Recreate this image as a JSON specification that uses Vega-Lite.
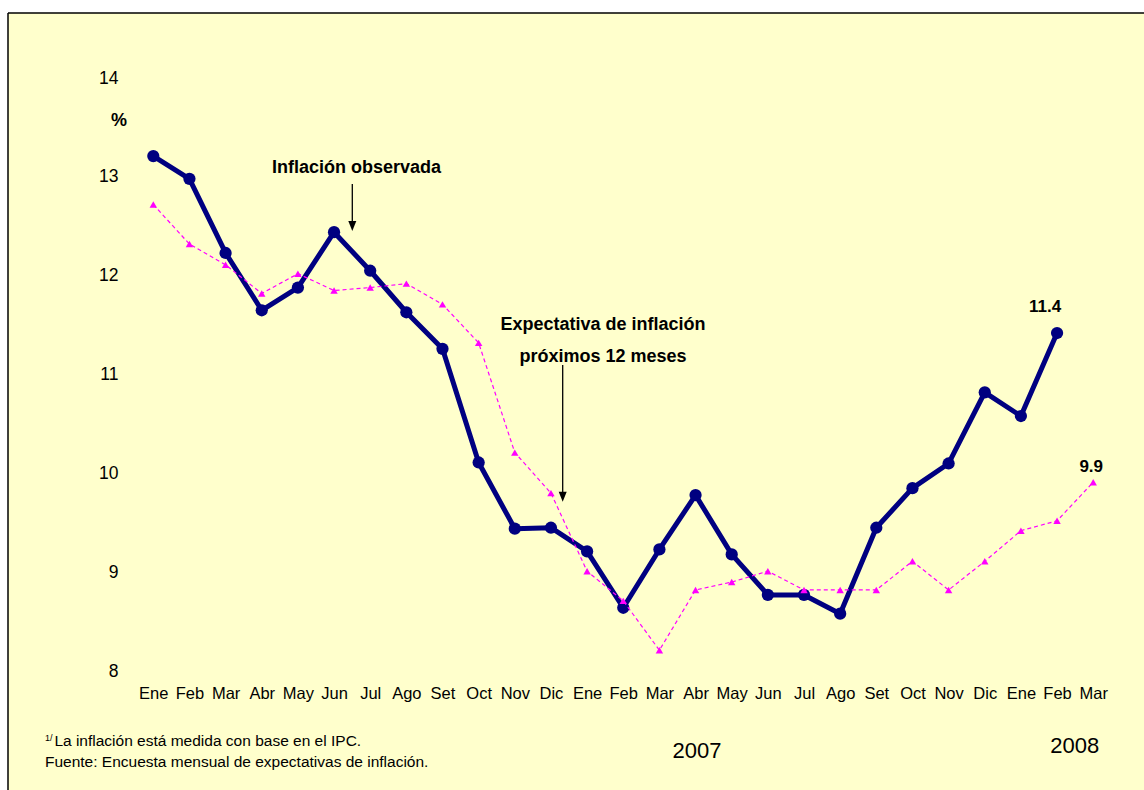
{
  "$schema": "https://vega.github.io/schema/vega-lite/v6.json",
  "width": 1136,
  "height": 777,
  "autosize": {"type": "none"},
  "padding": {"left": 8, "top": 13, "right": 0, "bottom": 0},
  "background": "#FFFFFF",
  "config": {
    "view": {"fill": "#FFFFCC", "stroke": null},
    "font": "Liberation Sans"
  },
  "datasets": {
    "series": [
      {"i": 0, "mes": "Ene", "anio": 2006, "serie": "obs", "v": 13.21},
      {"i": 1, "mes": "Feb", "anio": 2006, "serie": "obs", "v": 12.98},
      {"i": 2, "mes": "Mar", "anio": 2006, "serie": "obs", "v": 12.23},
      {"i": 3, "mes": "Abr", "anio": 2006, "serie": "obs", "v": 11.65},
      {"i": 4, "mes": "May", "anio": 2006, "serie": "obs", "v": 11.88},
      {"i": 5, "mes": "Jun", "anio": 2006, "serie": "obs", "v": 12.44},
      {"i": 6, "mes": "Jul", "anio": 2006, "serie": "obs", "v": 12.05},
      {"i": 7, "mes": "Ago", "anio": 2006, "serie": "obs", "v": 11.63},
      {"i": 8, "mes": "Set", "anio": 2006, "serie": "obs", "v": 11.26},
      {"i": 9, "mes": "Oct", "anio": 2006, "serie": "obs", "v": 10.11},
      {"i": 10, "mes": "Nov", "anio": 2006, "serie": "obs", "v": 9.44},
      {"i": 11, "mes": "Dic", "anio": 2006, "serie": "obs", "v": 9.45},
      {"i": 12, "mes": "Ene", "anio": 2007, "serie": "obs", "v": 9.21},
      {"i": 13, "mes": "Feb", "anio": 2007, "serie": "obs", "v": 8.64},
      {"i": 14, "mes": "Mar", "anio": 2007, "serie": "obs", "v": 9.23},
      {"i": 15, "mes": "Abr", "anio": 2007, "serie": "obs", "v": 9.78},
      {"i": 16, "mes": "May", "anio": 2007, "serie": "obs", "v": 9.18},
      {"i": 17, "mes": "Jun", "anio": 2007, "serie": "obs", "v": 8.77},
      {"i": 18, "mes": "Jul", "anio": 2007, "serie": "obs", "v": 8.77},
      {"i": 19, "mes": "Ago", "anio": 2007, "serie": "obs", "v": 8.58},
      {"i": 20, "mes": "Set", "anio": 2007, "serie": "obs", "v": 9.45},
      {"i": 21, "mes": "Oct", "anio": 2007, "serie": "obs", "v": 9.85},
      {"i": 22, "mes": "Nov", "anio": 2007, "serie": "obs", "v": 10.10},
      {"i": 23, "mes": "Dic", "anio": 2007, "serie": "obs", "v": 10.82},
      {"i": 24, "mes": "Ene", "anio": 2008, "serie": "obs", "v": 10.58},
      {"i": 25, "mes": "Feb", "anio": 2008, "serie": "obs", "v": 11.42},
      {"i": 0, "mes": "Ene", "anio": 2006, "serie": "exp", "v": 12.72},
      {"i": 1, "mes": "Feb", "anio": 2006, "serie": "exp", "v": 12.32},
      {"i": 2, "mes": "Mar", "anio": 2006, "serie": "exp", "v": 12.11},
      {"i": 3, "mes": "Abr", "anio": 2006, "serie": "exp", "v": 11.82},
      {"i": 4, "mes": "May", "anio": 2006, "serie": "exp", "v": 12.02},
      {"i": 5, "mes": "Jun", "anio": 2006, "serie": "exp", "v": 11.85},
      {"i": 6, "mes": "Jul", "anio": 2006, "serie": "exp", "v": 11.88},
      {"i": 7, "mes": "Ago", "anio": 2006, "serie": "exp", "v": 11.92},
      {"i": 8, "mes": "Set", "anio": 2006, "serie": "exp", "v": 11.71},
      {"i": 9, "mes": "Oct", "anio": 2006, "serie": "exp", "v": 11.32},
      {"i": 10, "mes": "Nov", "anio": 2006, "serie": "exp", "v": 10.21},
      {"i": 11, "mes": "Dic", "anio": 2006, "serie": "exp", "v": 9.80},
      {"i": 12, "mes": "Ene", "anio": 2007, "serie": "exp", "v": 9.01},
      {"i": 13, "mes": "Feb", "anio": 2007, "serie": "exp", "v": 8.71},
      {"i": 14, "mes": "Mar", "anio": 2007, "serie": "exp", "v": 8.21},
      {"i": 15, "mes": "Abr", "anio": 2007, "serie": "exp", "v": 8.82},
      {"i": 16, "mes": "May", "anio": 2007, "serie": "exp", "v": 8.90},
      {"i": 17, "mes": "Jun", "anio": 2007, "serie": "exp", "v": 9.01},
      {"i": 18, "mes": "Jul", "anio": 2007, "serie": "exp", "v": 8.82},
      {"i": 19, "mes": "Ago", "anio": 2007, "serie": "exp", "v": 8.82},
      {"i": 20, "mes": "Set", "anio": 2007, "serie": "exp", "v": 8.82},
      {"i": 21, "mes": "Oct", "anio": 2007, "serie": "exp", "v": 9.11},
      {"i": 22, "mes": "Nov", "anio": 2007, "serie": "exp", "v": 8.82},
      {"i": 23, "mes": "Dic", "anio": 2007, "serie": "exp", "v": 9.11},
      {"i": 24, "mes": "Ene", "anio": 2008, "serie": "exp", "v": 9.42},
      {"i": 25, "mes": "Feb", "anio": 2008, "serie": "exp", "v": 9.52},
      {"i": 26, "mes": "Mar", "anio": 2008, "serie": "exp", "v": 9.91}
    ],
    "marco": [
      {"i": -4.019, "i2": 27.405, "v": 14.658, "v2": 14.658},
      {"i": -4.019, "i2": -4.019, "v": 6.796, "v2": 14.658}
    ],
    "notas": [
      {"i": 5.62, "v": 13.036, "texto": "Inflación observada"},
      {"i": 12.44, "v": 11.45, "texto": "Expectativa de inflación"},
      {"i": 12.44, "v": 11.13, "texto": "próximos 12 meses"},
      {"i": -0.946, "v": 13.515, "texto": "%"}
    ],
    "flechas": [
      {"i": 5.505, "v": 12.928, "v2": 12.524},
      {"i": 11.325, "v": 11.096, "v2": 9.791}
    ],
    "puntas": [
      {"i": 5.505, "v": 12.503},
      {"i": 11.325, "v": 9.764}
    ],
    "anios": [
      {"i": 15.04, "v": 7.123, "texto": "2007"},
      {"i": 25.49, "v": 7.17, "texto": "2008"}
    ],
    "fuente": [
      {"i": -2.736, "v": 7.245, "texto": "La inflación está medida con base en el IPC."},
      {"i": -2.996, "v": 7.032, "texto": "Fuente: Encuesta mensual de expectativas de inflación."}
    ],
    "superindice": [
      {"i": -2.996, "v": 7.29, "texto": "1/"}
    ]
  },
  "encoding": {
    "x": {
      "field": "i",
      "type": "quantitative",
      "scale": {"domain": [-4.019, 27.405], "nice": false, "zero": false},
      "axis": {
        "title": null,
        "values": [0, 1, 2, 3, 4, 5, 6, 7, 8, 9, 10, 11, 12, 13, 14, 15, 16, 17, 18, 19, 20, 21, 22, 23, 24, 25, 26],
        "labelExpr": "['Ene','Feb','Mar','Abr','May','Jun','Jul','Ago','Set','Oct','Nov','Dic'][datum.value % 12]",
        "domain": false,
        "ticks": false,
        "tickSize": 0,
        "grid": false,
        "labelPadding": 0,
        "offset": -92,
        "labelFontSize": 16.5,
        "labelFont": "Liberation Sans",
        "labelColor": "#000000",
        "labelBaseline": "alphabetic",
        "labelFlush": false,
        "labelOverlap": false
      }
    },
    "y": {
      "field": "v",
      "type": "quantitative",
      "scale": {"domain": [6.796, 14.658], "nice": false, "zero": false},
      "axis": {
        "title": null,
        "values": [8, 9, 10, 11, 12, 13, 14],
        "domain": false,
        "ticks": false,
        "tickSize": 0,
        "grid": false,
        "labelPadding": 0,
        "offset": -110,
        "labelFontSize": 17.5,
        "labelFont": "Liberation Sans",
        "labelColor": "#000000",
        "labelFlush": false,
        "labelOverlap": false
      }
    }
  },
  "layer": [
    {
      "data": {"name": "marco"},
      "mark": {"type": "rule", "color": "#000000", "strokeWidth": 1.5},
      "encoding": {"x2": {"field": "i2"}, "y2": {"field": "v2"}}
    },
    {
      "data": {"name": "series"},
      "transform": [{"filter": "datum.serie === 'obs'"}],
      "mark": {"type": "line", "color": "#000080", "strokeWidth": 5, "strokeJoin": "round"}
    },
    {
      "data": {"name": "series"},
      "transform": [{"filter": "datum.serie === 'obs'"}],
      "mark": {"type": "point", "shape": "circle", "filled": true, "opacity": 1, "color": "#000080", "size": 150}
    },
    {
      "data": {"name": "series"},
      "transform": [{"filter": "datum.serie === 'exp'"}],
      "mark": {"type": "line", "color": "#FF00FF", "strokeWidth": 1.2, "strokeDash": [4, 3]}
    },
    {
      "data": {"name": "series"},
      "transform": [{"filter": "datum.serie === 'exp'"}],
      "mark": {"type": "point", "shape": "triangle-up", "filled": true, "opacity": 1, "color": "#FF00FF", "size": 55}
    },
    {
      "data": {"name": "series"},
      "transform": [{"filter": "datum.serie === 'obs' && datum.i === 25"}],
      "mark": {"type": "text", "fontWeight": "bold", "fontSize": 17, "color": "#000000", "baseline": "alphabetic", "align": "center", "dx": -12, "dy": -21},
      "encoding": {"text": {"field": "v", "type": "quantitative", "format": ".1f"}}
    },
    {
      "data": {"name": "series"},
      "transform": [{"filter": "datum.serie === 'exp' && datum.i === 26"}],
      "mark": {"type": "text", "fontWeight": "bold", "fontSize": 17, "color": "#000000", "baseline": "alphabetic", "align": "center", "dx": -2, "dy": -10},
      "encoding": {"text": {"field": "v", "type": "quantitative", "format": ".1f"}}
    },
    {
      "data": {"name": "notas"},
      "mark": {"type": "text", "fontWeight": "bold", "fontSize": 18, "color": "#000000", "baseline": "alphabetic", "align": "center"},
      "encoding": {"text": {"field": "texto", "type": "nominal"}}
    },
    {
      "data": {"name": "flechas"},
      "mark": {"type": "rule", "color": "#000000", "strokeWidth": 1.3},
      "encoding": {"y2": {"field": "v2"}}
    },
    {
      "data": {"name": "puntas"},
      "mark": {"type": "point", "shape": "M-0.8,-1L0.8,-1L0,1Z", "filled": true, "opacity": 1, "color": "#000000", "size": 100}
    },
    {
      "data": {"name": "anios"},
      "mark": {"type": "text", "fontSize": 22, "color": "#000000", "baseline": "alphabetic", "align": "center"},
      "encoding": {"text": {"field": "texto", "type": "nominal"}}
    },
    {
      "data": {"name": "fuente"},
      "mark": {"type": "text", "fontSize": 15.5, "color": "#000000", "baseline": "alphabetic", "align": "left"},
      "encoding": {"text": {"field": "texto", "type": "nominal"}}
    },
    {
      "data": {"name": "superindice"},
      "mark": {"type": "text", "fontSize": 9, "color": "#000000", "baseline": "alphabetic", "align": "left"},
      "encoding": {"text": {"field": "texto", "type": "nominal"}}
    }
  ]
}
